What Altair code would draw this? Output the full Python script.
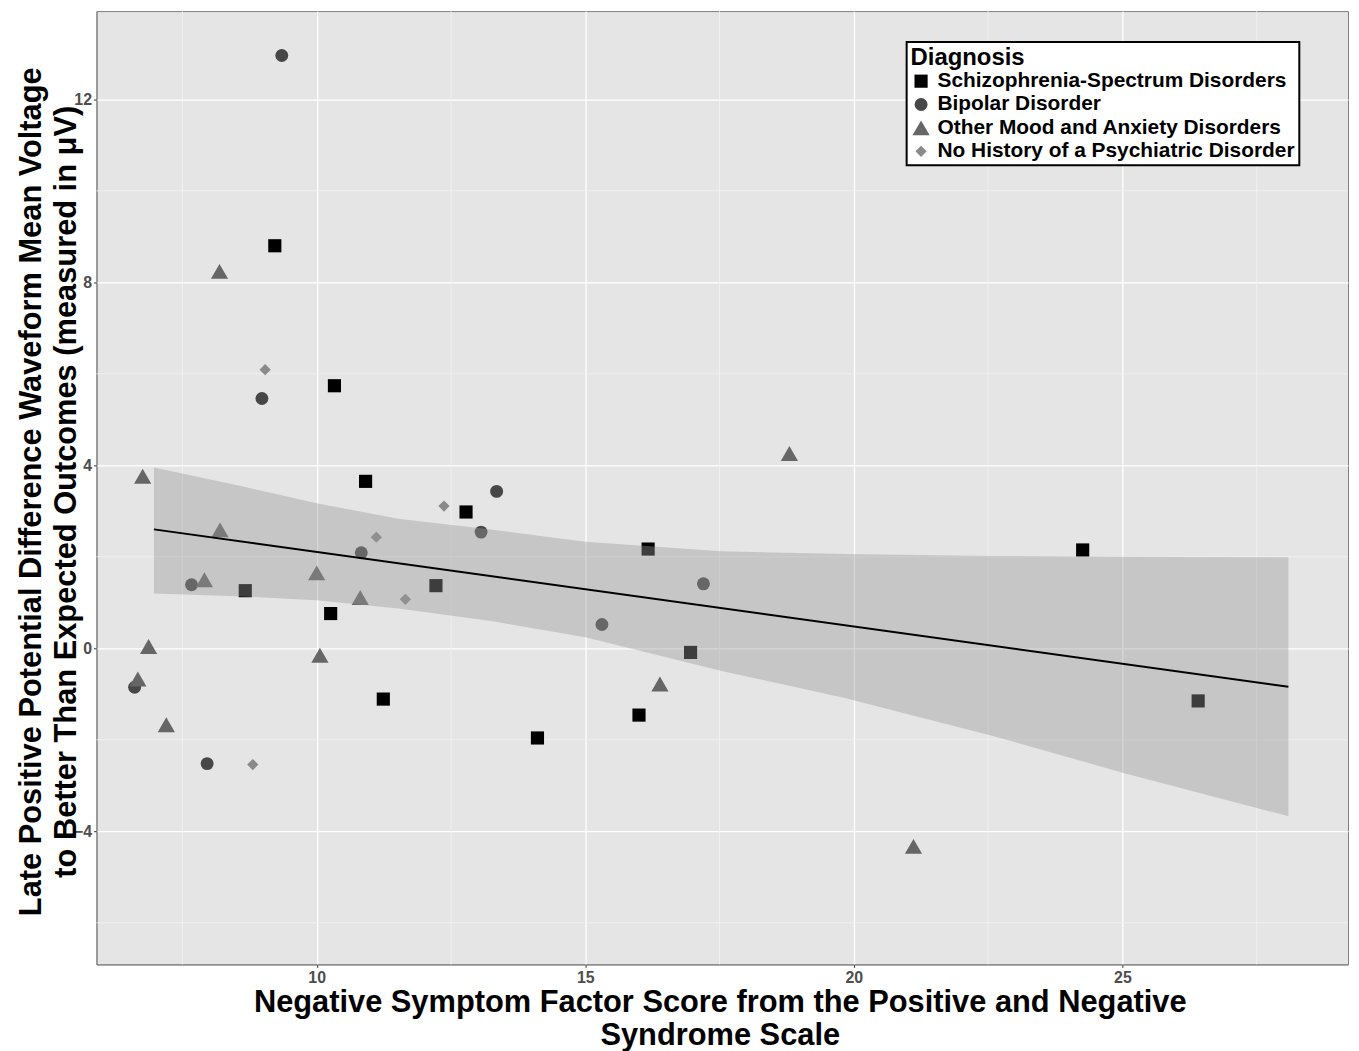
import altair as alt
import pandas as pd

groups = ["Schizophrenia-Spectrum Disorders", "Bipolar Disorder",
          "Other Mood and Anxiety Disorders", "No History of a Psychiatric Disorder"]

schizo_x = [9.22, 10.33, 10.91, 12.78, 16.17, 8.67, 10.26, 12.22, 11.24, 14.11, 16.0, 16.96, 24.26, 26.41]
schizo_y = [8.80, 5.74, 3.65, 2.98, 2.17, 1.26, 0.76, 1.37, -1.11, -1.96, -1.46, -0.09, 2.15, -1.15]
bipolar_x = [9.35, 8.98, 13.35, 13.06, 10.83, 7.67, 17.20, 15.31, 6.61, 7.96]
bipolar_y = [12.96, 5.46, 3.43, 2.54, 2.09, 1.39, 1.41, 0.52, -0.85, -2.52]
mood_x = [8.19, 6.76, 8.20, 7.91, 10.0, 10.81, 6.87, 6.67, 7.20, 10.06, 16.39, 18.80, 21.11]
mood_y = [8.24, 3.76, 2.59, 1.50, 1.65, 1.11, 0.04, -0.67, -1.67, -0.15, -0.78, 4.26, -4.33]
none_x = [9.04, 12.37, 11.11, 11.65, 8.81]
none_y = [6.09, 3.11, 2.43, 1.07, -2.54]

band_x = [6.97, 8.5, 10.0, 11.52, 13.28, 15.0, 17.52, 19.85, 22.57, 25.07, 28.09]
band_upper = [3.95, 3.57, 3.17, 2.83, 2.59, 2.33, 2.12, 2.06, 2.02, 2.00, 1.99]
band_lower = [1.20, 1.14, 1.05, 0.87, 0.59, 0.24, -0.49, -1.09, -1.91, -2.74, -3.67]

line_x = [6.97, 28.09]
line_y = [2.60, -0.84]

x_major = [10, 15, 20, 25]
x_minor = [7.5, 12.5, 17.5, 22.5, 27.5]
y_major = [-4, 0, 4, 8, 12]
y_minor = [-6, -2, 2, 6, 10]

rows = []
for g, xs, ys in zip(groups, [schizo_x, bipolar_x, mood_x, none_x],
                     [schizo_y, bipolar_y, mood_y, none_y]):
    for a, b in zip(xs, ys):
        rows.append({"x": a, "y": b, "Diagnosis": g})
pts = pd.DataFrame(rows)
band = pd.DataFrame({"x": band_x, "hi": band_upper, "lo": band_lower})
fit = pd.DataFrame({"x": line_x, "y": line_y})

FONT = "Liberation Sans"
xscale = alt.Scale(domain=[5.9, 29.2], nice=False, zero=False)
yscale = alt.Scale(domain=[-6.91, 13.93], nice=False, zero=False)

xaxis = alt.Axis(values=x_major, title=["Negative Symptom Factor Score from the Positive and Negative",
                                         "Syndrome Scale"],
                 grid=True, gridColor="white", gridWidth=1.3,
                 labelFont=FONT, labelFontSize=16, labelFontWeight="bold", labelColor="#4d4d4d",
                 labelPadding=2, tickSize=3, tickColor="#333333", domainColor="#7f7f7f",
                 titleFont=FONT, titleFontSize=31, titleFontWeight="bold", titleColor="black",
                 titleLineHeight=34, titleBaseline="middle", titleX=627, titleY=38)
yaxis = alt.Axis(values=y_major, title=["Late Positive Potential Difference Waveform Mean Voltage",
                                         "to Better Than Expected Outcomes (measured in μV)"],
                 grid=True, gridColor="white", gridWidth=1.3,
                 labelFont=FONT, labelFontSize=16, labelFontWeight="bold", labelColor="#4d4d4d",
                 labelPadding=2, tickSize=3, tickColor="#333333", domainColor="#7f7f7f",
                 titleFont=FONT, titleFontSize=31, titleFontWeight="bold", titleColor="black",
                 titleLineHeight=35, titleBaseline="middle", titleAngle=270, titleX=-65, titleY=483)

minor_x = alt.Chart(pd.DataFrame({"v": x_minor})).mark_rule(color="#f2f2f2", strokeWidth=0.8).encode(
    x=alt.X("v:Q", scale=xscale, axis=xaxis))
minor_y = alt.Chart(pd.DataFrame({"v": y_minor})).mark_rule(color="#f2f2f2", strokeWidth=0.8).encode(
    y=alt.Y("v:Q", scale=yscale, axis=yaxis))

points = alt.Chart(pts).mark_point(filled=True, opacity=1, strokeWidth=0).encode(
    x=alt.X("x:Q", scale=xscale, axis=xaxis),
    y=alt.Y("y:Q", scale=yscale, axis=yaxis),
    color=alt.Color("Diagnosis:N", scale=alt.Scale(domain=groups,
                    range=["#000000", "#474747", "#666666", "#8a8a8a"])),
    shape=alt.Shape("Diagnosis:N", scale=alt.Scale(domain=groups,
                    range=["square", "circle", "triangle-up", "diamond"])),
    size=alt.Size("Diagnosis:N", scale=alt.Scale(type="ordinal", domain=groups,
                                                 range=[175, 169, 300, 128])),
)

ribbon = alt.Chart(band).mark_area(color="#999999", opacity=0.4).encode(
    x=alt.X("x:Q", scale=xscale), y=alt.Y("hi:Q", scale=yscale), y2="lo:Q")

line = alt.Chart(fit).mark_line(color="black", strokeWidth=2).encode(
    x=alt.X("x:Q", scale=xscale), y=alt.Y("y:Q", scale=yscale))

chart = alt.layer(minor_x, minor_y, points, ribbon, line).properties(
    width=1259, height=959,
    background="white",
    autosize=alt.AutoSizeParams(type="none"),
    padding={"left": 89, "top": 0, "right": 3, "bottom": 84},
).configure_view(fill="#e5e5e5", stroke="#7f7f7f", strokeWidth=1).configure_legend(
    orient="none", legendX=815, legendY=31,
    fillColor="white", strokeColor="black", strokeWidth=2, padding=4,
    titleFont=FONT, titleFontSize=24, titleFontWeight="bold", titleColor="black", titlePadding=1,
    labelFont=FONT, labelFontSize=21, labelFontWeight="bold", labelColor="black", labelLimit=0,
    rowPadding=1.5, labelOffset=6, symbolStrokeWidth=0,
)

chart.save("out.html", embed_options={"renderer": "svg", "actions": False})
